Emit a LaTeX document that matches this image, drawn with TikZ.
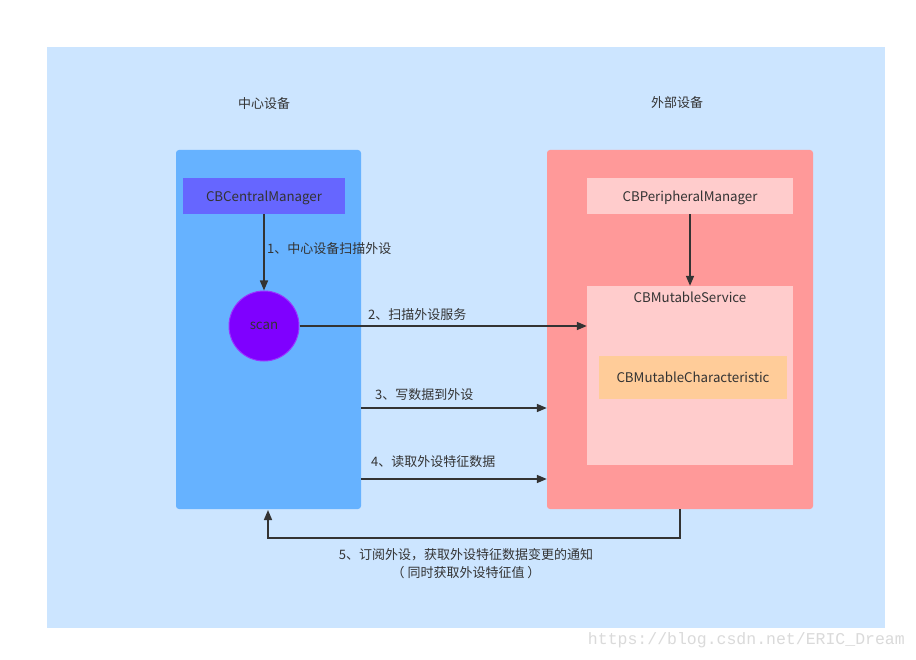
\documentclass[tikz,border=0pt]{standalone}
\usepackage{fontspec}
\setmainfont{Noto Sans CJK SC}
\newfontfamily\wmfont{Liberation Mono}
\usetikzlibrary{arrows.meta}
\definecolor{bgblue}{HTML}{CCE5FF}
\definecolor{leftblue}{HTML}{66B2FF}
\definecolor{cmgr}{HTML}{6666FF}
\definecolor{scanfill}{HTML}{7F00FF}
\definecolor{scanedge}{HTML}{9933FF}
\definecolor{rightred}{HTML}{FF9999}
\definecolor{lightpink}{HTML}{FFCCCC}
\definecolor{orangebox}{HTML}{FFCC99}
\definecolor{txt}{HTML}{333333}
\definecolor{wm}{HTML}{DADADA}
\tikzset{
  box/.style={inner sep=0pt, text=txt, text depth=0pt, font=\fontsize{13.3}{15}\selectfont},
  lbl/.style={text=txt, font=\fontsize{13}{15}\selectfont, inner sep=0pt},
  conn/.style={draw=txt, line width=1.6pt, -{Triangle[length=10pt,width=8pt]}},
}
\begin{document}
\begin{tikzpicture}[x=1pt,y=-1pt]
\useasboundingbox (0,0) rectangle (916,660);
\fill[white] (0,0) rectangle (916,660);
\fill[bgblue] (47,47) rectangle (885,628);
% panels
\node[box, fill=leftblue, rounded corners=3pt, minimum width=185pt, minimum height=359pt] (left) at (268.5,329.5) {};
\node[box, fill=rightred, rounded corners=3pt, minimum width=266pt, minimum height=359pt] (right) at (680,329.5) {};
% titles
\node[lbl] (t1) at (264,104) {中心设备};
\node[lbl] (t2) at (677,103) {外部设备};
% central manager
\node[box, fill=cmgr, minimum width=162pt, minimum height=36pt] (cm) at (264,196) {CBCentralManager};
\node[box, circle, fill=scanfill, draw=scanedge, line width=1pt, minimum size=70pt] (scan) at (264,326) {scan};
% peripheral side
\node[box, fill=lightpink, minimum width=206pt, minimum height=36pt] (pm) at (690,196) {CBPeripheralManager};
\node[box, fill=lightpink, minimum width=206pt, minimum height=179pt] (svc) at (690,375.5) {};
\node[lbl, font=\fontsize{13.3}{15}\selectfont] (svct) at (690,297) {CBMutableService};
\node[box, fill=orangebox, minimum width=188pt, minimum height=43pt] (chr) at (693,377.5) {CBMutableCharacteristic};
% connectors
\draw[conn] (cm.south) -- (scan.north);
\node[lbl, anchor=west] (l1) at (267,249) {1、中心设备扫描外设};
\draw[conn] (pm.south) -- (svc.north);
\draw[conn] (scan.east) -- (svc.west |- scan.east);
\node[lbl, anchor=west] (l2) at (368,315) {2、扫描外设服务};
\coordinate (a3) at (361,408);
\draw[conn] (a3) -- (right.west |- a3);
\node[lbl, anchor=west] (l3) at (375,395) {3、写数据到外设};
\coordinate (a4) at (361,479);
\draw[conn] (a4) -- (right.west |- a4);
\node[lbl, anchor=west] (l4) at (371,462) {4、读取外设特征数据};
\coordinate (b5) at (680,509);
\coordinate (e5) at (268,510);
\draw[conn] (b5) -- (680,538) -- (268,538) -- (e5);
\node[lbl] (l5a) at (466,555) {5、订阅外设，获取外设特征数据变更的通知};
\node[lbl] (l5b) at (466,573) {（ 同时获取外设特征值 ）};
% watermark
\node[anchor=east, inner sep=0pt, text=wm, font=\wmfont\fontsize{16.5}{18}\selectfont] (wmk) at (905,640) {https://blog.csdn.net/ERIC\_Dream};
\end{tikzpicture}
\end{document}
